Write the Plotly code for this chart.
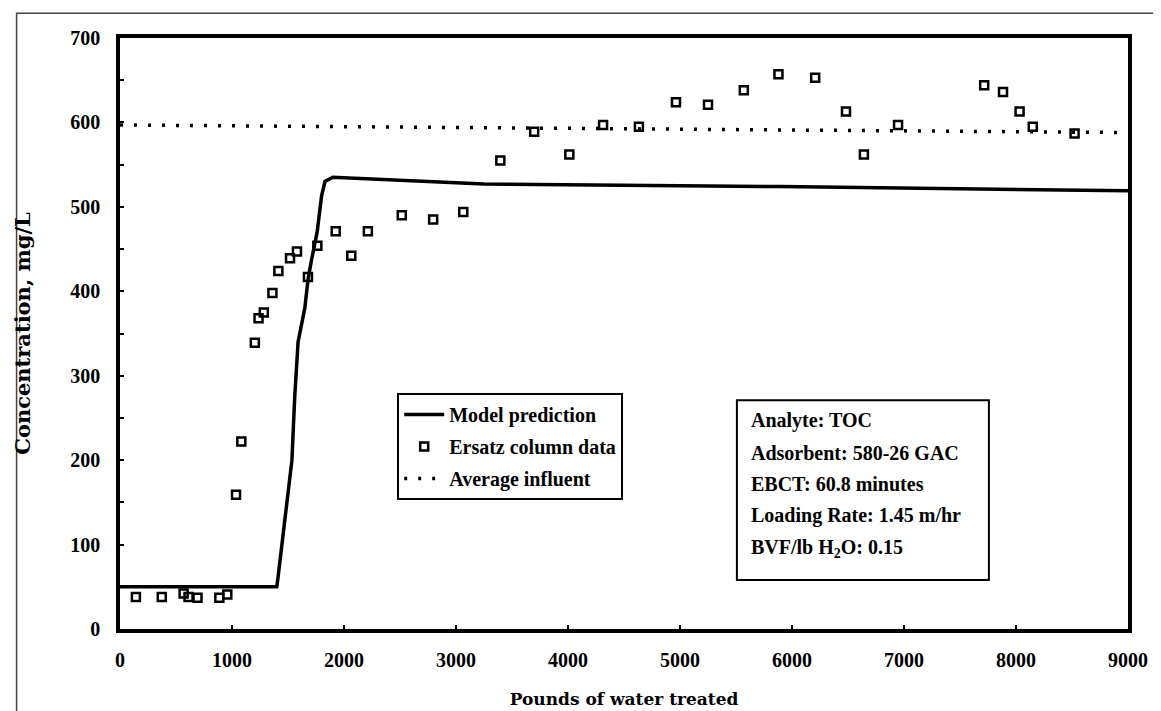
import plotly.graph_objects as go

# ------------------------------------------------------------
# data
# ------------------------------------------------------------
model_x = [0, 1400, 1410, 1470, 1535, 1560, 1590, 1650, 1680, 1710, 1760, 1800, 1830, 1900,
           2500, 3250, 5900, 9000]
model_y = [50, 50, 60, 125, 200, 275, 340, 380, 415, 437, 470, 513, 530, 535,
           531, 527, 524, 519]

ersatz_x = [142, 373, 568, 612, 692, 887, 958, 1036, 1083, 1204, 1237, 1284, 1361, 1414,
            1518, 1580, 1678, 1762, 1926, 2065, 2213, 2516, 2796, 3065, 3396, 3698, 4012,
            4313, 4633, 4964, 5250, 5570, 5879, 6207, 6482, 6642, 6947, 7716, 7884, 8032,
            8150, 8523]
ersatz_y = [38, 38, 42, 38, 37, 37, 41, 159, 222, 339, 368, 375, 398, 424,
            439, 447, 417, 454, 471, 442, 471, 490, 485, 494, 555, 589, 562,
            597, 595, 624, 621, 638, 657, 653, 613, 562, 597, 644, 636, 613,
            595, 587]

influent_x = [0, 9000]
influent_y = [597, 588]

x_ticks = [0, 1000, 2000, 3000, 4000, 5000, 6000, 7000, 8000, 9000]
y_ticks = [0, 100, 200, 300, 400, 500, 600, 700]

info_lines = ["Analyte: TOC",
              "Adsorbent: 580-26 GAC",
              "EBCT: 60.8 minutes",
              "Loading Rate: 1.45 m/hr",
              "BVF/lb H<sub>2</sub>O: 0.15"]

FONT = "Liberation Serif"
TITLE_FONT = "DejaVu Serif"
INK = "black"

fig = go.Figure()

fig.add_trace(go.Scatter(x=model_x, y=model_y, mode="lines", name="Model prediction",
                         legendgroup="a", line=dict(color=INK, width=3.5)))
fig.add_trace(go.Scatter(x=ersatz_x, y=ersatz_y, mode="markers", name="Ersatz column data",
                         legendgroup="b",
                         marker=dict(symbol="square-open", size=8, color=INK,
                                     line=dict(color=INK, width=2.5))))
fig.add_trace(go.Scatter(x=influent_x, y=influent_y, mode="lines", name="Average influent",
                         legendgroup="c",
                         line=dict(color=INK, width=3.5, dash="3px,11px")))

# info box: frame + one line of text each, spaced like the original
fig.add_shape(type="rect", xref="paper", yref="paper", x0=0.612, x1=0.862, y0=0.083, y1=0.387,
              line=dict(color=INK, width=2), fillcolor="white", layer="above")
info_y = [0.353, 0.298, 0.245, 0.192, 0.137]
for txt, yy in zip(info_lines, info_y):
    fig.add_annotation(x=0.624, y=yy, xref="paper", yref="paper", xanchor="left",
                       yanchor="middle", text=txt, showarrow=False, align="left",
                       font=dict(family=FONT, size=20, color=INK, weight="bold"))

# outer frame round the whole figure
fig.add_shape(type="rect", xref="paper", yref="paper", x0=-0.1026, x1=1.0276, y0=-0.2, y1=1.042,
              line=dict(color="#444444", width=1.5), layer="below")

fig.update_xaxes(range=[0, 9000], tickvals=x_ticks, ticks="inside", ticklen=4, tickwidth=1.5,
                 tickcolor=INK, showline=True, linewidth=3.5, linecolor=INK, mirror=True,
                 showgrid=False, zeroline=False, ticklabelstandoff=10,
                 tickfont=dict(family=FONT, size=20, color=INK, weight="bold"),
                 title=dict(text="Pounds of water treated", standoff=24,
                            font=dict(family=TITLE_FONT, size=17, color=INK, weight="bold")))
fig.update_yaxes(range=[0, 700], tickvals=y_ticks, ticks="inside", ticklen=4, tickwidth=1.5,
                 tickcolor=INK, showline=True, linewidth=3.5, linecolor=INK, mirror=True,
                 showgrid=False, zeroline=False, ticklabelstandoff=12,
                 minor=dict(dtick=50, ticks="inside", ticklen=4, tickwidth=1.5, tickcolor=INK,
                            showgrid=False),
                 tickfont=dict(family=FONT, size=20, color=INK, weight="bold"),
                 title=dict(text="Concentration, mg/L", standoff=35,
                            font=dict(family=TITLE_FONT, size=21, color=INK, weight="bold")))

fig.update_layout(
    width=1161, height=711,
    margin=dict(l=112, r=41, t=30, b=90),
    paper_bgcolor="white", plot_bgcolor="white",
    showlegend=True,
    legend=dict(x=0.275, y=0.309, xanchor="left", yanchor="middle",
                bgcolor="white", bordercolor=INK, borderwidth=2,
                font=dict(family=FONT, size=20, color=INK, weight="bold"),
                itemwidth=40, tracegroupgap=3),
)

fig.write_html("out.html")
